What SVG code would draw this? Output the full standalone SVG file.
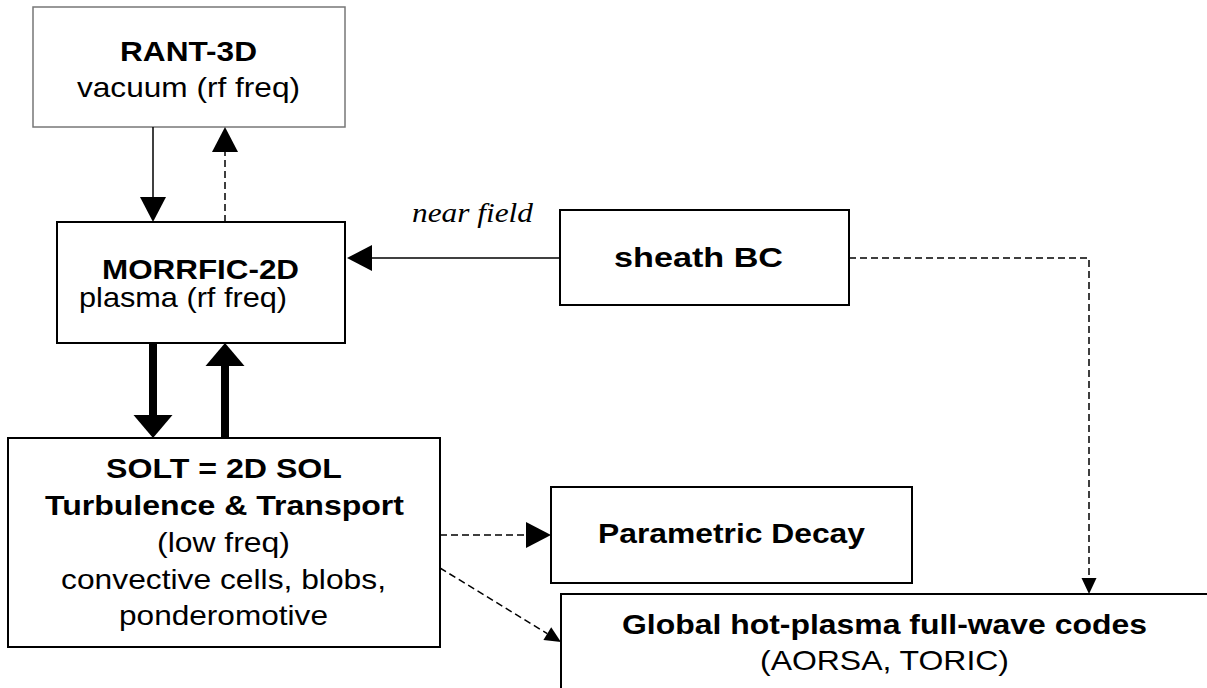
<svg xmlns="http://www.w3.org/2000/svg" width="1207" height="688" viewBox="0 0 1207 688">
<style>
.box{fill:#fff;stroke:#000;stroke-width:2}
.gbox{fill:#fff;stroke:#777;stroke-width:1.5}
.t{font-family:"Liberation Sans",Arial,sans-serif;font-size:28px;fill:#000}
.b{font-weight:bold}
.it{font-family:"Liberation Serif","Times New Roman",serif;font-style:italic;font-size:28px;fill:#000}
.ln{fill:none;stroke:#000;stroke-width:1.5}
.dash{stroke-dasharray:7 4}
.thick{fill:none;stroke:#000;stroke-width:8}
</style>
<defs>
<marker id="big" markerUnits="userSpaceOnUse" markerWidth="26" markerHeight="26" refX="0" refY="13" orient="auto" overflow="visible"><path d="M0,0 L25,13 L0,26 z" fill="#000"/></marker>
<marker id="thk" markerUnits="userSpaceOnUse" markerWidth="24" markerHeight="40" refX="0" refY="19.5" orient="auto" overflow="visible"><path d="M0,0 L23,19.5 L0,39 z" fill="#000"/></marker>
<marker id="sm" markerUnits="userSpaceOnUse" markerWidth="16" markerHeight="16" refX="0" refY="7.5" orient="auto" overflow="visible"><path d="M0,0 L16,7.5 L0,15 z" fill="#000"/></marker>
</defs>
<rect width="1207" height="688" fill="#fff"/>
<g id="rant">
<rect class="gbox" x="33" y="7" width="312" height="120"/>
<text class="t b" x="120" y="61" textLength="137" lengthAdjust="spacingAndGlyphs">RANT-3D</text>
<text class="t" x="77" y="97" textLength="223" lengthAdjust="spacingAndGlyphs">vacuum (rf freq)</text>
</g>
<g id="morrfic">
<rect class="box" x="57" y="222" width="288" height="121"/>
<text class="t b" x="102" y="279" textLength="197" lengthAdjust="spacingAndGlyphs">MORRFIC-2D</text>
<text class="t" x="79" y="307" textLength="208" lengthAdjust="spacingAndGlyphs">plasma (rf freq)</text>
</g>
<g id="sheath">
<rect class="box" x="560" y="210" width="289" height="95"/>
<text class="t b" x="614" y="267" textLength="169" lengthAdjust="spacingAndGlyphs">sheath BC</text>
</g>
<g id="solt">
<rect class="box" x="8" y="438" width="432" height="209"/>
<text class="t b" x="106" y="478" textLength="236" lengthAdjust="spacingAndGlyphs">SOLT = 2D SOL</text>
<text class="t b" x="45" y="515" textLength="359" lengthAdjust="spacingAndGlyphs">Turbulence &amp; Transport</text>
<text class="t" x="157" y="552" textLength="133" lengthAdjust="spacingAndGlyphs">(low freq)</text>
<text class="t" x="61" y="589" textLength="325" lengthAdjust="spacingAndGlyphs">convective cells, blobs,</text>
<text class="t" x="119" y="625" textLength="209" lengthAdjust="spacingAndGlyphs">ponderomotive</text>
</g>
<g id="param">
<rect class="box" x="551" y="487" width="361" height="96"/>
<text class="t b" x="598" y="543" textLength="267" lengthAdjust="spacingAndGlyphs">Parametric Decay</text>
</g>
<g id="global">
<rect class="box" x="561" y="594" width="700" height="200"/>
<text class="t b" x="622" y="634" textLength="525" lengthAdjust="spacingAndGlyphs">Global hot-plasma full-wave codes</text>
<text class="t" x="760" y="670" textLength="249" lengthAdjust="spacingAndGlyphs">(AORSA, TORIC)</text>
</g>
<g id="connectors">
<path class="ln" d="M153,127 V197" marker-end="url(#big)"/>
<path class="ln dash" d="M225,222 V152" marker-end="url(#big)"/>
<path class="ln" d="M560,258 H372" marker-end="url(#big)"/>
<text class="it" x="412" y="222" textLength="121" lengthAdjust="spacingAndGlyphs">near field</text>
<path class="ln dash" d="M849,258 H1089 V578" marker-end="url(#sm)"/>
<path class="thick" d="M153,343 V415" marker-end="url(#thk)"/>
<path class="thick" d="M225,438 V366" marker-end="url(#thk)"/>
<path class="ln dash" d="M440,535 H526" marker-end="url(#big)"/>
<path class="ln dash" d="M440,568 L547.3,633.6" marker-end="url(#sm)"/>
</g>
</svg>
